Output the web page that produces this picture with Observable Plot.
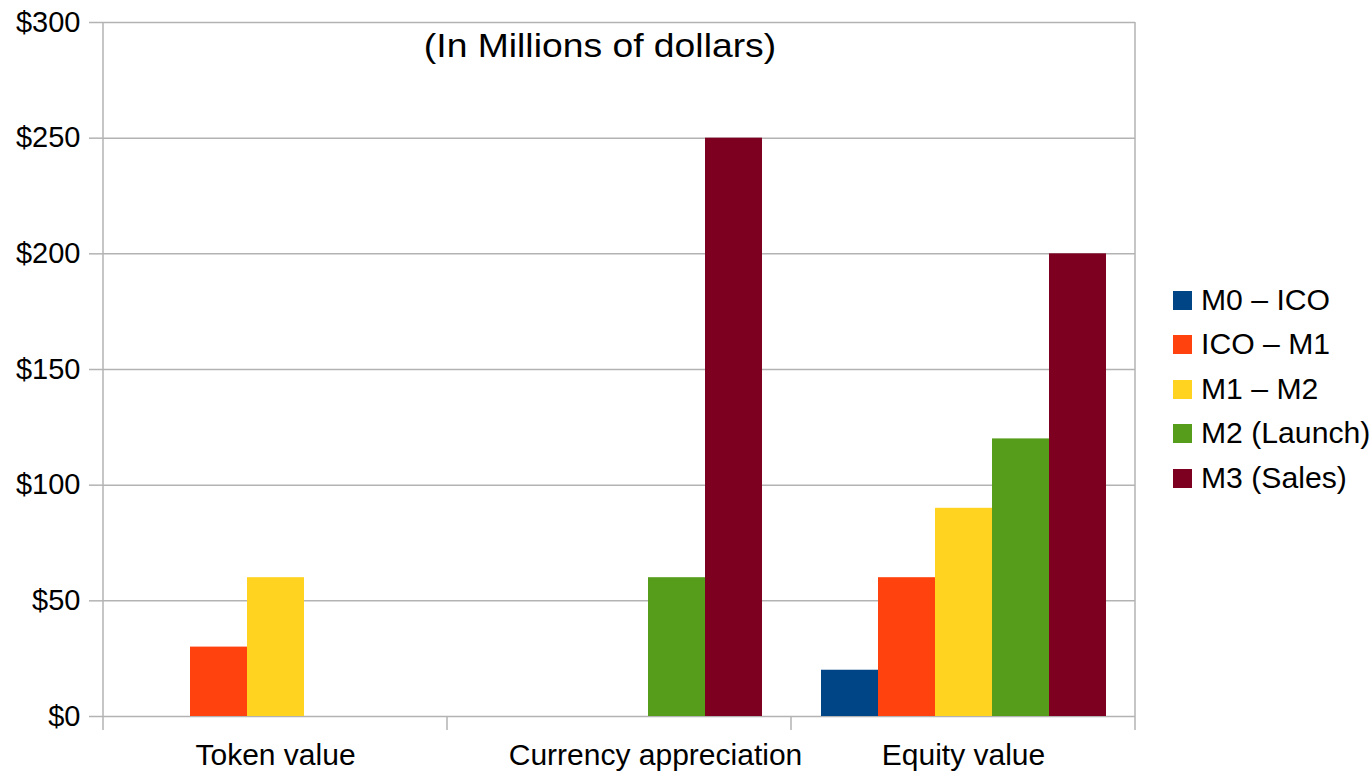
<!DOCTYPE html>
<html>
<head>
<meta charset="utf-8">
<script src="https://cdn.jsdelivr.net/npm/d3@7"></script>
<script src="https://cdn.jsdelivr.net/npm/@observablehq/plot@0.6"></script>
<style>
  html, body { margin: 0; padding: 0; background: #fff; }
  #wrap { position: relative; width: 1372px; height: 772px; overflow: hidden; font-family: "Liberation Sans", Arial, sans-serif; color: #000; }
  #chart { position: absolute; left: 0; top: 0; }
  #title { position: absolute; left: 600px; top: 26px; font-size: 33px; white-space: nowrap; transform: translateX(-50%) scaleX(1.13); transform-origin: center; line-height: 40px; }
  #legend { position: absolute; left: 1173px; top: 278px; }
  .row { display: flex; align-items: center; height: 44.5px; font-size: 29px; white-space: nowrap; }
  .row span { display: inline-block; transform: scaleX(1.04); transform-origin: left center; }
  .sw { width: 19px; height: 19px; margin-right: 9px; flex: none; }
</style>
</head>
<body>
<div id="wrap">
  <div id="chart"></div>
  <div id="title">(In Millions of dollars)</div>
  <div id="legend"></div>
</div>
<script>
// ---- data ----
const categories = ["Token value", "Currency appreciation", "Equity value"];
const seriesNames = ["M0 – ICO", "ICO – M1", "M1 – M2", "M2 (Launch)", "M3 (Sales)"];
const tokenValue = [0, 30, 60, 0, 0];
const currencyAppreciation = [0, 0, 0, 60, 250];
const equityValue = [20, 60, 90, 120, 200];
const seriesColors = ["#004586", "#ff420e", "#ffd320", "#579d1c", "#7e0021"];
const yTicks = [0, 50, 100, 150, 200, 250, 300];

const valuesByCategory = [tokenValue, currencyAppreciation, equityValue];
const rows = [];
categories.forEach((c, i) => {
  seriesNames.forEach((s, j) => {
    const v = valuesByCategory[i][j];
    if (v > 0) rows.push({category: c, series: s, value: v});
  });
});

const gridColor = "#b3b3b3";

const chart = Plot.plot({
  width: 1160,
  height: 772,
  marginLeft: 103,
  marginRight: 25,
  marginTop: 22,
  marginBottom: 56,
  style: {fontFamily: "'Liberation Sans', Arial, sans-serif", fontSize: "29px", color: "#000", background: "transparent", overflow: "visible"},
  fx: {domain: categories, padding: 0, label: null, axis: "bottom", tickSize: 0, tickPadding: 27},
  x: {domain: seriesNames, paddingInner: 0, paddingOuter: 0.5, axis: null},
  y: {domain: [0, 300], ticks: yTicks, tickFormat: d => "$" + d, label: null, tickSize: 14, tickPadding: 9},
  color: {domain: seriesNames, range: seriesColors},
  marks: [
    Plot.ruleY(yTicks, {stroke: gridColor, strokeWidth: 1.5}),
    Plot.barY(rows, {fx: "category", x: "series", y: "value", fill: "series"})
  ]
});

document.getElementById("chart").appendChild(chart);

// style axis ticks and add frame/group separators from the library's scales
const svg = d3.select(chart);
svg.selectAll('g[aria-label="y-axis tick"]').attr("stroke", gridColor).attr("stroke-width", 1.5);
svg.selectAll('g[aria-label="y-axis tick"] path').attr("stroke", gridColor);
svg.selectAll('g[aria-label="fx-axis tick label"] text, g[aria-label="fx-axis tick label"]').style("font-size", "30px");
// the middle category label sits a little right of its group centre in the original
svg.selectAll('g[aria-label="fx-axis tick label"] text')
  .filter(function () { return this.textContent === categories[1]; })
  .attr("dx", 36);

const fxS = chart.scale("fx");
const yS = chart.scale("y");
const fxBand = d3.scaleBand().domain(fxS.domain).range(fxS.range).paddingInner(0).paddingOuter(0);
const yLin = d3.scaleLinear().domain(yS.domain).range(yS.range);
const y0 = yLin(0);
const yTop = yLin(300);
const bounds = categories.map(c => fxBand(c));
bounds.push(fxBand(categories[categories.length - 1]) + fxBand.bandwidth());
const extra = 14;
const g = svg.append("g").attr("stroke", gridColor).attr("stroke-width", 1.5);
bounds.forEach((bx, i) => {
  const full = (i === 0 || i === bounds.length - 1);
  g.append("line").attr("x1", bx).attr("x2", bx)
    .attr("y1", full ? yTop : y0).attr("y2", y0 + extra);
});

// legend
const legend = d3.select("#legend");
seriesNames.forEach((s, i) => {
  const r = legend.append("div").attr("class", "row");
  r.append("div").attr("class", "sw").style("background", seriesColors[i]);
  r.append("span").text(s);
});
</script>
</body>
</html>
